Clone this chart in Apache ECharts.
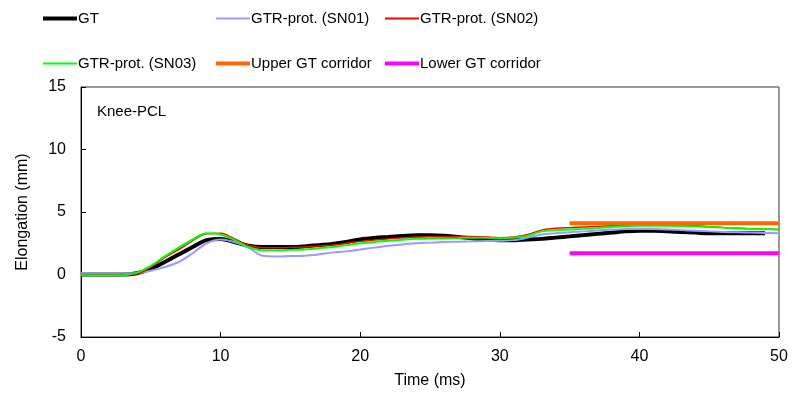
<!DOCTYPE html>
<html>
<head>
<meta charset="utf-8">
<script src="https://cdn.jsdelivr.net/npm/echarts@6/dist/echarts.min.js"></script>
<style>html,body{margin:0;padding:0;background:#fff}#c{width:801px;height:410px}</style>
</head>
<body>
<div id="c"></div>
<script>
var time = [0,1,2,3,4,5,6,7,8,9,10,11,12,13,14,15,16,17,18,19,20,21,22,23,24,25,26,27,28,29,30,31,32,33,34,35,36,37,38,39,40,41,42,43,44,45,46,47,48,49,50];
var gt   = [0,0,0,0,0.1,0.45,1.0,1.6,2.2,2.75,2.85,2.6,2.3,2.2,2.2,2.2,2.25,2.35,2.45,2.6,2.8,2.92,3.0,3.08,3.15,3.15,3.1,3.0,2.9,2.8,2.75,2.75,2.8,2.85,2.95,3.05,3.15,3.25,3.35,3.45,3.5,3.5,3.45,3.4,3.35,3.3,3.3,3.3,3.3,3.3,null];
var sn01 = [0.1,0.1,0.1,0.1,0.1,0.3,0.6,1.0,1.7,2.5,2.8,2.6,2.15,1.5,1.45,1.48,1.5,1.6,1.75,1.85,2.0,2.15,2.3,2.4,2.5,2.55,2.6,2.62,2.65,2.68,2.7,2.75,2.95,3.2,3.3,3.38,3.45,3.52,3.6,3.63,3.65,3.63,3.6,3.55,3.5,3.45,3.4,3.38,3.35,3.32,3.3];
var sn02 = [0,0,0,0,0.05,0.6,1.35,2.0,2.7,3.25,3.3,2.85,2.35,2.15,2.15,2.17,2.2,2.27,2.35,2.5,2.65,2.75,2.85,2.93,3.0,3.03,3.05,3.05,3.05,3.0,2.95,3.0,3.2,3.55,3.7,3.75,3.8,3.85,3.9,3.93,3.95,3.95,3.95,3.93,3.9,3.83,3.75,3.7,3.65,3.62,3.6];
var sn03 = [-0.05,-0.05,-0.05,-0.05,0.15,0.7,1.45,2.15,2.8,3.3,3.2,2.75,2.2,1.95,1.95,1.97,2.0,2.1,2.2,2.35,2.5,2.6,2.7,2.78,2.85,2.88,2.9,2.92,2.95,2.93,2.9,2.95,3.1,3.45,3.55,3.6,3.65,3.72,3.8,3.85,3.9,3.9,3.9,3.88,3.85,3.8,3.75,3.7,3.65,3.62,3.6];
var corridorTime = [35, 50];
var upperCorridor = [4.1, 4.1];
var lowerCorridor = [1.7, 1.7];
var seriesNames = ['GT', 'GTR-prot. (SN01)', 'GTR-prot. (SN02)', 'GTR-prot. (SN03)', 'Upper GT corridor', 'Lower GT corridor'];
var xTicks = [0, 10, 20, 30, 40, 50];
var yTicks = [-5, 0, 5, 10, 15];

function pairs(xs, ys) {
  var out = [];
  for (var i = 0; i < xs.length; i++) { if (ys[i] !== null) out.push([xs[i], ys[i]]); }
  return out;
}
var FONT = '"Liberation Sans", Arial, sans-serif';
var FS = 15;
var FA = 16;
var colors = ['#000000', '#9999ff', '#ff0000', '#00ff00', '#ff6600', '#ff00ff'];
var widths = [4, 2, 1.5, 2, 4, 4];
var legendPos = [[43, 11], [216, 11], [385, 11], [43, 56], [216, 56], [385, 56]];

var legends = seriesNames.map(function (n, i) {
  return {
    data: [n], left: legendPos[i][0], top: legendPos[i][1], padding: 0,
    icon: 'rect', itemWidth: 34, itemHeight: widths[i] < 3 ? 2 : 4,
    textStyle: { fontFamily: FONT, fontSize: FS, color: '#000', padding: [0, 0, 0, -4] },
    selectedMode: false
  };
});

var dataSets = [pairs(time, gt), pairs(time, sn01), pairs(time, sn02), pairs(time, sn03), pairs(corridorTime, upperCorridor), pairs(corridorTime, lowerCorridor)];
var series = seriesNames.map(function (n, i) {
  return {
    name: n, type: 'line', data: dataSets[i], showSymbol: false, symbol: 'none',
    smooth: i < 4 ? 0.35 : false,
    lineStyle: { color: colors[i], width: widths[i] }, itemStyle: { color: colors[i] },
    animation: false, z: 2 + i
  };
});

var chart = echarts.init(document.getElementById('c'));
chart.setOption({
  animation: false,
  backgroundColor: '#fff',
  legend: legends,
  title: { text: 'Knee-PCL', left: 97, top: 104, padding: 0, textStyle: { fontFamily: FONT, fontSize: FS, fontWeight: 'normal', color: '#000' } },
  grid: { left: 81, right: 22, top: 87, bottom: 73, show: true, borderColor: '#333', borderWidth: 1, backgroundColor: 'transparent' },
  xAxis: {
    type: 'value', min: xTicks[0], max: xTicks[xTicks.length - 1], interval: 10,
    name: 'Time (ms)', nameLocation: 'middle', nameGap: 36,
    nameTextStyle: { fontFamily: FONT, fontSize: FA, color: '#000' },
    axisLine: { show: true, onZero: false, lineStyle: { color: '#000', width: 1 } },
    axisTick: { show: true, inside: true, length: 5, lineStyle: { color: '#000' } },
    axisLabel: { fontFamily: FONT, fontSize: FA, color: '#000', margin: 12 },
    splitLine: { show: false }
  },
  yAxis: {
    type: 'value', min: yTicks[0], max: yTicks[yTicks.length - 1], interval: 5,
    name: 'Elongation (mm)', nameLocation: 'middle', nameGap: 50, nameRotate: 90,
    nameTextStyle: { fontFamily: FONT, fontSize: FA, color: '#000' },
    axisLine: { show: true, onZero: false, lineStyle: { color: '#000', width: 1 } },
    axisTick: { show: true, inside: true, length: 5, lineStyle: { color: '#000' } },
    axisLabel: { fontFamily: FONT, fontSize: FA, color: '#000', margin: 15 },
    splitLine: { show: false }
  },
  series: series
});
</script>
</body>
</html>
